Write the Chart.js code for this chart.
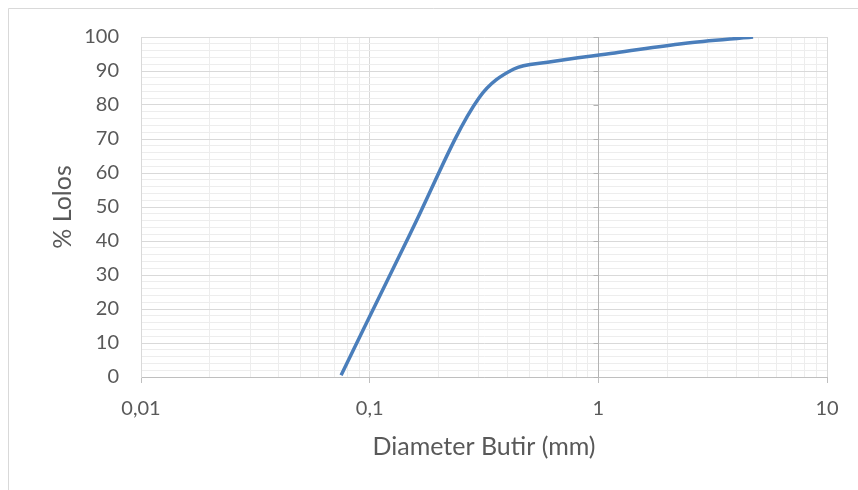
<!DOCTYPE html>
<html>
<head>
<meta charset="utf-8">
<script src="https://cdn.jsdelivr.net/npm/chart.js@4.4.0/dist/chart.umd.min.js"></script>
<style>
  html, body { margin: 0; padding: 0; background: #fff; }
  #wrap { width: 858px; height: 490px; position: relative; }
</style>
</head>
<body>
<div id="wrap"><canvas id="myChart" width="858" height="490"></canvas></div>
<script>
// sieve sizes (mm) and % passing
const diameters = [0.075, 0.15, 0.3, 0.425, 0.6, 1.18, 2.36, 4.75];
const passing = [0.5, 42, 82, 90.5, 92.6, 95.3, 98.1, 100];

const xDecades = [0.01, 0.1, 1, 10];
const xTickLabels = ['0,01', '0,1', '1', '10'];
const yTicks = [0, 10, 20, 30, 40, 50, 60, 70, 80, 90, 100];

const isDecade = v => xDecades.some(d => Math.abs(v - d) < d * 1e-6);

// excel style frame + vertical axis crossing at x = 1
const framePlugin = {
  id: 'frame',
  beforeDraw(chart) {
    const c = chart.ctx;
    c.save();
    c.fillStyle = '#fff';
    c.fillRect(0, 0, chart.width, chart.height);
    c.strokeStyle = '#d9d9d9';
    c.lineWidth = 1;
    c.beginPath();
    c.moveTo(8.5, chart.height);
    c.lineTo(8.5, 8.5);
    c.lineTo(chart.width, 8.5);
    c.stroke();
    c.restore();
  },
  beforeDatasetsDraw(chart) {
    const c = chart.ctx, xs = chart.scales.x, ys = chart.scales.y;
    const px = Math.round(xs.getPixelForValue(1)) + 0.5;
    c.save();
    c.strokeStyle = '#b4b4b4';
    c.lineWidth = 1;
    c.beginPath();
    c.moveTo(px, ys.top);
    c.lineTo(px, ys.bottom);
    yTicks.forEach(v => {
      const py = Math.round(ys.getPixelForValue(v)) + 0.5;
      c.moveTo(px - 5, py);
      c.lineTo(px, py);
    });
    c.stroke();
    c.restore();
  }
};

const font = { family: 'Lato', size: 20 };
const titleFont = { family: 'Lato', size: 25 };

new Chart(document.getElementById('myChart'), {
  type: 'line',
  data: {
    datasets: [{
      data: diameters.map((d, i) => ({ x: d, y: passing[i] })),
      borderColor: '#4a7ebb',
      borderWidth: 3.5,
      pointRadius: 0,
      fill: false,
      cubicInterpolationMode: 'monotone'
    }]
  },
  options: {
    responsive: false,
    animation: false,
    layout: { padding: { top: 37, right: 31, left: 0, bottom: 0 } },
    plugins: { legend: { display: false }, tooltip: { enabled: false } },
    scales: {
      x: {
        type: 'logarithmic',
        min: 0.01,
        max: 10,
        afterBuildTicks: scale => {
          const t = [];
          [0.01, 0.1, 1].forEach(d => {
            for (let k = 1; k <= 9; k++) t.push({ value: d * k });
          });
          t.push({ value: 10 });
          scale.ticks = t;
        },
        afterFit: scale => { scale.height = 113; },
        grid: {
          color: ctx => (ctx.tick && isDecade(ctx.tick.value)) ? '#d9d9d9' : '#ededed',
          tickColor: ctx => (ctx.tick && isDecade(ctx.tick.value)) ? '#bfbfbf' : 'rgba(0,0,0,0)',
          tickLength: 6,
          lineWidth: 1
        },
        border: { color: '#bfbfbf' },
        ticks: {
          autoSkip: false,
          maxRotation: 0,
          padding: 14,
          color: '#595959',
          font: font,
          callback: v => {
            const i = xDecades.findIndex(d => Math.abs(v - d) < d * 1e-6);
            return i >= 0 ? xTickLabels[i] : '';
          }
        },
        title: {
          display: true,
          text: 'Diameter Butir (mm)',
          color: '#595959',
          font: titleFont,
          padding: { top: 0, bottom: 28 }
        }
      },
      y: {
        min: 0,
        max: 100,
        afterBuildTicks: scale => {
          const t = [];
          for (let v = 0; v <= 100; v += 2) t.push({ value: v });
          scale.ticks = t;
        },
        afterFit: scale => { scale.width = 141; },
        grid: {
          color: ctx => (ctx.tick && ctx.tick.value % 10 === 0) ? '#d9d9d9' : '#ededed',
          drawTicks: false,
          lineWidth: 1
        },
        border: { color: '#d9d9d9' },
        ticks: {
          autoSkip: false,
          padding: 22,
          color: '#595959',
          font: font,
          callback: v => yTicks.includes(v) ? String(v) : ''
        },
        title: {
          display: true,
          text: '% Lolos',
          color: '#595959',
          font: titleFont,
          padding: { top: 48, bottom: 0 }
        }
      }
    }
  },
  plugins: [framePlugin]
});
</script>
</body>
</html>
